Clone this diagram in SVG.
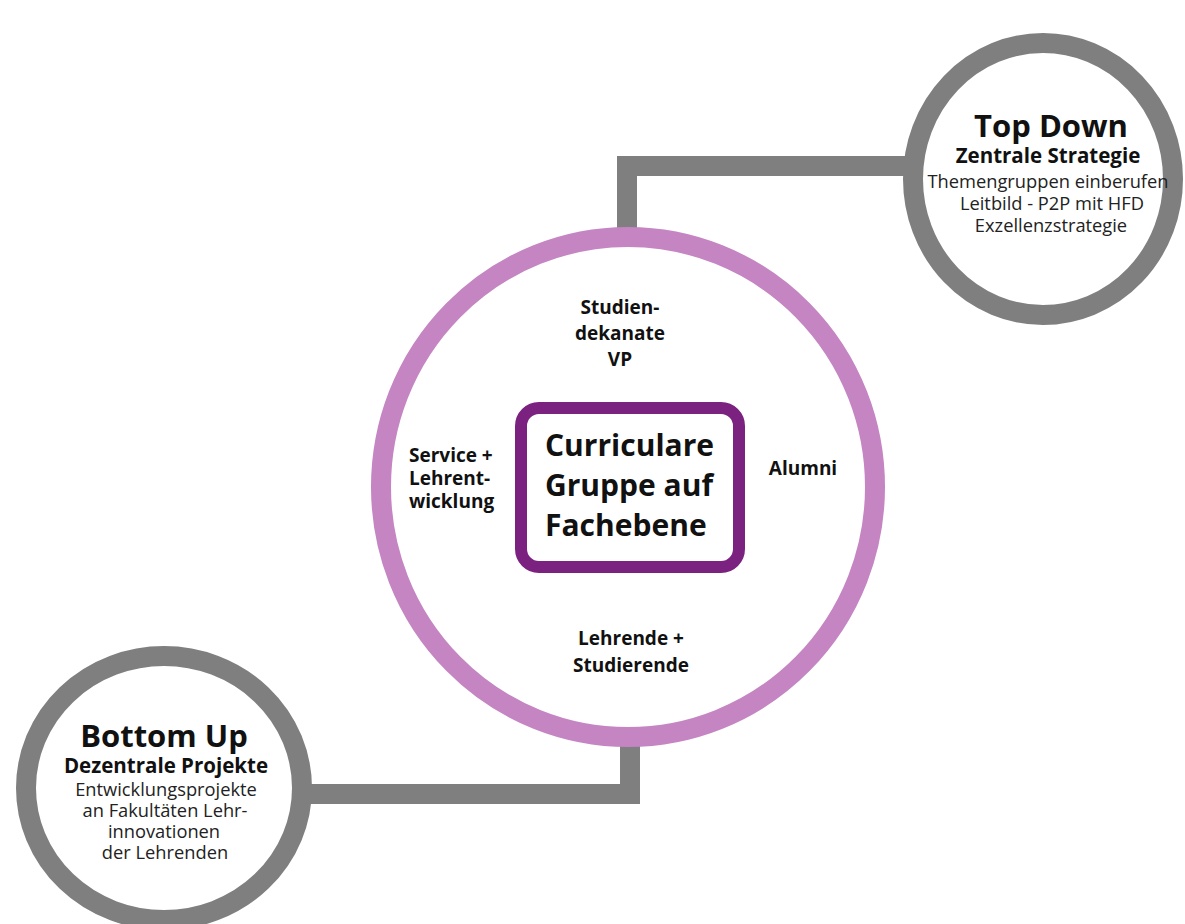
<svg xmlns="http://www.w3.org/2000/svg" width="1185" height="924" viewBox="0 0 1185 924">
  <style>
    .t { font-family: "Open Sans", "Noto Sans", "Liberation Sans", sans-serif; fill: #111; }
    .b { font-weight: 700; }
    .r { font-weight: 400; fill: #222; }
    .mid { text-anchor: middle; }
    .lbl { font-size: 19px; }
    .head { font-size: 31px; }
    .sub { font-size: 20.5px; }
    .body { font-size: 18.3px; }
    .conn { fill: none; stroke: #7f7f7f; stroke-width: 20; stroke-linejoin: miter; stroke-linecap: butt; }
    .gray { fill: #ffffff; stroke: #7f7f7f; stroke-width: 20; }
    .ring { fill: #ffffff; stroke: #c485c2; stroke-width: 20; }
    .core { fill: #ffffff; stroke: #7b2180; stroke-width: 12; }
  </style>
  <rect x="0" y="0" width="1185" height="924" fill="#ffffff"/>

  <g id="connectors">
    <path class="conn" d="M 915 166 H 627 V 240"/>
    <path class="conn" d="M 300 794 H 630 V 735"/>
  </g>

  <g id="node-ring">
    <ellipse class="ring" cx="628" cy="487" rx="247" ry="250"/>
  </g>

  <g id="node-studiendekanate">
    <text class="t b mid lbl" x="620" y="314">Studien-</text>
    <text class="t b mid lbl" x="620" y="340">dekanate</text>
    <text class="t b mid lbl" x="620" y="366">VP</text>
  </g>

  <g id="node-service">
    <text class="t b lbl" x="409" y="462">Service +</text>
    <text class="t b lbl" x="409" y="485">Lehrent-</text>
    <text class="t b lbl" x="409" y="508">wicklung</text>
  </g>

  <g id="node-alumni">
    <text class="t b mid lbl" x="803" y="475">Alumni</text>
  </g>

  <g id="node-lehrende">
    <text class="t b mid lbl" x="631" y="645">Lehrende +</text>
    <text class="t b mid lbl" x="631" y="672">Studierende</text>
  </g>

  <g id="node-center">
    <rect class="core" x="521" y="408" width="218" height="159" rx="18" ry="18"/>
    <text class="t b" font-size="30" x="545" y="456">Curriculare</text>
    <text class="t b" font-size="30" x="545" y="496">Gruppe auf</text>
    <text class="t b" font-size="30" x="545" y="536">Fachebene</text>
  </g>

  <g id="node-top-down">
    <ellipse class="gray" cx="1043" cy="179" rx="130" ry="136"/>
    <text class="t b mid head" x="1051" y="137">Top Down</text>
    <text class="t b mid sub" x="1048" y="163">Zentrale Strategie</text>
    <text class="t r mid body" x="1048" y="188">Themengruppen einberufen</text>
    <text class="t r mid body" x="1052" y="210">Leitbild - P2P mit HFD</text>
    <text class="t r mid body" x="1051" y="232">Exzellenzstrategie</text>
  </g>

  <g id="node-bottom-up">
    <ellipse class="gray" cx="164" cy="788" rx="138" ry="132"/>
    <text class="t b mid head" x="164" y="747">Bottom Up</text>
    <text class="t b mid sub" x="166" y="773">Dezentrale Projekte</text>
    <text class="t r mid body" x="166" y="796">Entwicklungsprojekte</text>
    <text class="t r mid body" x="165" y="817">an Fakultäten Lehr-</text>
    <text class="t r mid body" x="164" y="838">innovationen</text>
    <text class="t r mid body" x="165" y="859">der Lehrenden</text>
  </g>
</svg>
